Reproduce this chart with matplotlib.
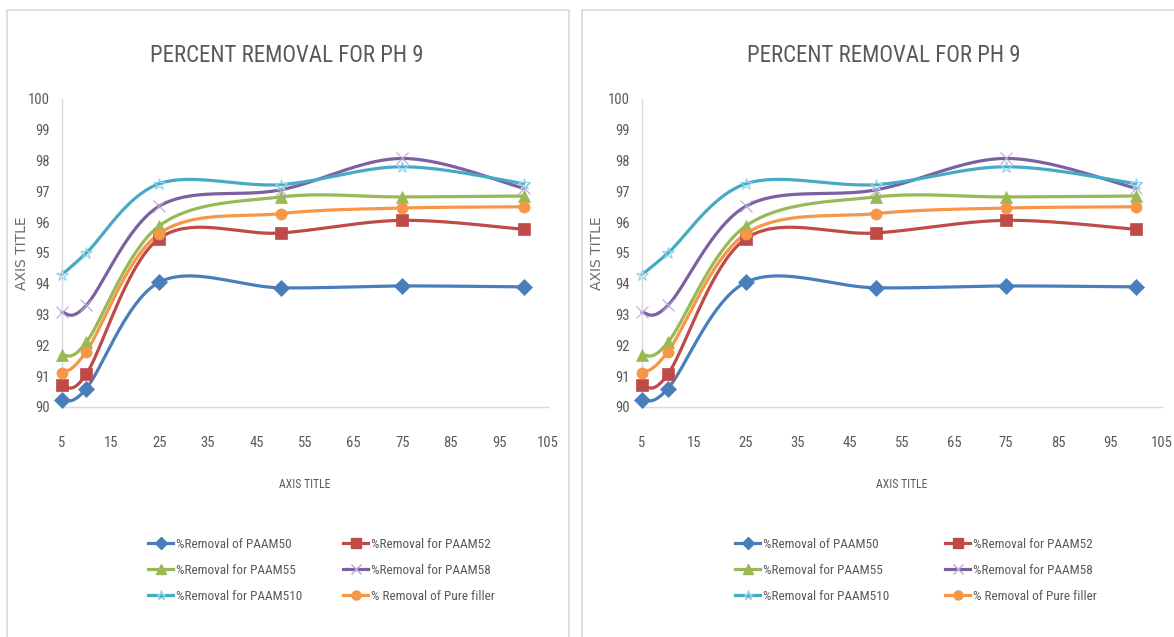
import numpy as np
import matplotlib
matplotlib.use("Agg")
from matplotlib import pyplot as plt
from matplotlib.patches import Rectangle

# dose values on the x axis
doses = [5, 10, 25, 50, 75, 100]

# percent removal for each adsorbent
paam50 = [90.23, 90.6, 94.05, 93.87, 93.93, 93.9]
paam52 = [90.71, 91.07, 95.47, 95.65, 96.06, 95.77]
paam55 = [91.68, 92.1, 95.88, 96.82, 96.82, 96.85]
paam58 = [93.07, 93.3, 96.52, 97.05, 98.07, 97.1]
paam510 = [94.3, 95.0, 97.25, 97.22, 97.8, 97.25]
pure_filler = [91.1, 91.8, 95.63, 96.28, 96.46, 96.5]

series_labels = ['%Removal of PAAM50', '%Removal for PAAM52',
                 '%Removal for PAAM55', '%Removal for PAAM58',
                 '%Removal for PAAM510', '% Removal of Pure filler']
series_values = [paam50, paam52, paam55, paam58, paam510, pure_filler]
series_colors = ['#4A7EBB', '#BE4B48', '#98B954', '#7D60A0', '#46AAC5', '#F79646']
series_markers = ['D', 's', '^', 'x', '*', 'o']
# lighter edge for the thin markers
marker_edges = ['#4A7EBB', '#BE4B48', '#98B954', '#B8A8D8', '#8FD3E8', '#F79646']

chart_title = 'PERCENT REMOVAL FOR PH 9'
y_ticks = list(range(90, 101))
x_ticks = list(range(5, 106, 10))

NARROW = ['Liberation Sans Narrow', 'Roboto Condensed', 'Open Sans Condensed',
          'Liberation Sans', 'DejaVu Sans']
GREY = '#595959'
W, H = 1174, 637


def smooth(xs, ys, n=40):
    # smoothed line: cubic bezier through every point
    xs = np.asarray(xs, float)
    ys = np.asarray(ys, float)
    px = np.concatenate([[xs[0]], xs, [xs[-1]]])
    py = np.concatenate([[ys[0]], ys, [ys[-1]]])
    out_x, out_y = [], []
    t = np.linspace(0, 1, n)
    for i in range(1, len(xs)):
        p0 = np.array([px[i], py[i]])
        p3 = np.array([px[i + 1], py[i + 1]])
        c1 = p0 + (p3 - np.array([px[i - 1], py[i - 1]])) / 6
        c2 = p3 - (np.array([px[i + 2], py[i + 2]]) - p0) / 6
        pts = (np.outer((1 - t) ** 3, p0) + np.outer(3 * (1 - t) ** 2 * t, c1)
               + np.outer(3 * (1 - t) * t ** 2, c2) + np.outer(t ** 3, p3))
        out_x.extend(pts[:, 0])
        out_y.extend(pts[:, 1])
    return out_x, out_y


def fx(px):
    return px / W


def fy(py):
    return 1 - py / H


def draw_chart(fig, frame_l, frame_r, ax_l, ax_r, leg_x1, leg_x2):
    # chart border
    fig.add_artist(Rectangle((fx(frame_l), fy(660)), fx(frame_r - frame_l), fy(10) - fy(660),
                             transform=fig.transFigure, fill=False,
                             edgecolor='#d9d9d9', linewidth=1.2))
    ax = fig.add_axes([fx(ax_l), fy(407), fx(ax_r - ax_l), fy(99) - fy(407)])
    handles = []
    for vals, col, mk, edge in zip(series_values, series_colors, series_markers, marker_edges):
        sx, sy = smooth(doses, vals)
        ax.plot(sx, sy, color=col, linewidth=2.3, solid_capstyle='round', clip_on=False)
        thin = mk in ('x', '*')
        ax.plot(doses, vals, linestyle='none', marker=mk, color=col,
                markersize=9 if thin else 8,
                markeredgewidth=0.8 if thin else 0.5,
                markerfacecolor='none' if thin else col,
                markeredgecolor=edge, clip_on=False, zorder=3)
        h, = ax.plot([], [], color=col, linewidth=2.3, marker=mk, markersize=6.5,
                     markerfacecolor=col, markeredgecolor=edge)
        handles.append(h)

    ax.set_xlim(5, 105)
    ax.set_ylim(90, 100)
    ax.set_xticks(x_ticks)
    ax.set_yticks(y_ticks)
    for s in ('top', 'right'):
        ax.spines[s].set_visible(False)
    for s in ('left', 'bottom'):
        ax.spines[s].set_color('#d9d9d9')
        ax.spines[s].set_linewidth(1.0)
    ax.tick_params(length=0, colors=GREY)
    ax.tick_params(axis='y', pad=9)
    ax.tick_params(axis='x', pad=21)
    for lbl in ax.get_xticklabels() + ax.get_yticklabels():
        lbl.set_fontfamily(NARROW)
        lbl.set_fontsize(10.5)
        lbl.set_color(GREY)

    fig.text(fx(ax_l + (ax_r - ax_l) / 2 - 18), fy(55), chart_title, ha='center', va='center',
             fontsize=16.5, color=GREY, family=NARROW)
    fig.text(fx(frame_l + 15), fy(253), 'AXIS TITLE', rotation=90, ha='center', va='center',
             fontsize=10, color='#6b6b6b', family='DejaVu Sans')
    fig.text(fx(ax_l + (ax_r - ax_l) / 2), fy(485), 'AXIS TITLE', ha='center', va='center',
             fontsize=8.5, color=GREY, family=NARROW)

    # two legend columns, placed separately
    for col_idx, lx in ((0, leg_x1), (1, leg_x2)):
        idx = [col_idx, col_idx + 2, col_idx + 4]
        leg = fig.legend([handles[i] for i in idx], [series_labels[i] for i in idx],
                         loc='upper left', bbox_to_anchor=(fx(lx), fy(538)),
                         frameon=False, handlelength=1.9, handletextpad=0.2,
                         labelspacing=0.97, borderpad=0, borderaxespad=0,
                         prop={'family': NARROW, 'size': 9.5})
        for t in leg.get_texts():
            t.set_color(GREY)
    return ax


fig = plt.figure(figsize=(W / 100, H / 100), dpi=100)
draw_chart(fig, 7, 569, 62, 548, 148, 343)
draw_chart(fig, 582, 1240, 642, 1162, 735, 945)
fig.savefig('out.png', dpi=100)
